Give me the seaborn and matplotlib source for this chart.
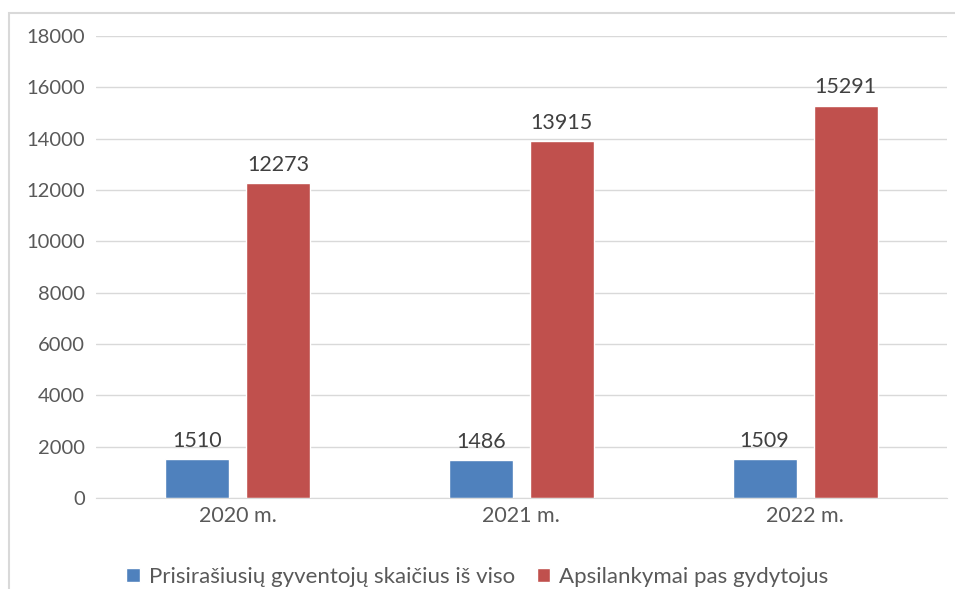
import pandas as pd
import seaborn as sns
import matplotlib.pyplot as plt
from matplotlib.patches import Rectangle

years = ["2020 m.", "2021 m.", "2022 m."]
residents = [1510, 1486, 1509]
visits = [12273, 13915, 15291]
series_names = ["Prisirašiusių gyventojų skaičius iš viso", "Apsilankymai pas gydytojus"]
colors = ["#4F81BD", "#C0504D"]

df = pd.DataFrame({
    "year": years * 2,
    "value": residents + visits,
    "series": [series_names[0]] * 3 + [series_names[1]] * 3,
})

sns.set_style("white")
plt.rcParams["font.family"] = ["Lato", "DejaVu Sans"]

fig = plt.figure(figsize=(9.55, 5.89), dpi=100)
ax = fig.add_axes([0.1005, 0.1545, 0.891, 0.7844])

sns.barplot(
    data=df,
    x="year",
    y="value",
    hue="series",
    palette=colors,
    width=0.571,
    gap=0.21,
    saturation=1,
    ax=ax,
)

for c in ax.containers:
    ax.bar_label(c, fmt="%d", padding=6, fontsize=15.5, color="#404040")

ax.set_ylim(0, 18000)
ax.set_yticks(range(0, 18001, 2000))
ax.set_xlim(-0.5, 2.5)
ax.set_xlabel("")
ax.set_ylabel("")
ax.grid(axis="y", color="#D9D9D9", linewidth=1)
ax.set_axisbelow(True)
for s in ["left", "right", "top"]:
    ax.spines[s].set_visible(False)
ax.spines["bottom"].set_color("#D9D9D9")
ax.tick_params(axis="both", length=0, labelcolor="#595959")
ax.tick_params(axis="y", pad=8, labelsize=14.5)
ax.tick_params(axis="x", pad=6, labelsize=15.5)

ax.legend(
    loc="lower center",
    ncol=2,
    frameon=False,
    fontsize=16,
    handlelength=0.6,
    handleheight=0.6,
    handletextpad=0.4,
    columnspacing=1.0,
    labelcolor="#595959",
)
leg = ax.get_legend()
leg.set_bbox_to_anchor((0.5, -0.03), transform=fig.transFigure)

fig.add_artist(Rectangle((9 / 955, -0.1), 1.2, 1 - 13 / 589 + 0.1,
                         transform=fig.transFigure, fill=False,
                         edgecolor="#D9D9D9", linewidth=1.5))

fig.savefig("out.png", dpi=100)
